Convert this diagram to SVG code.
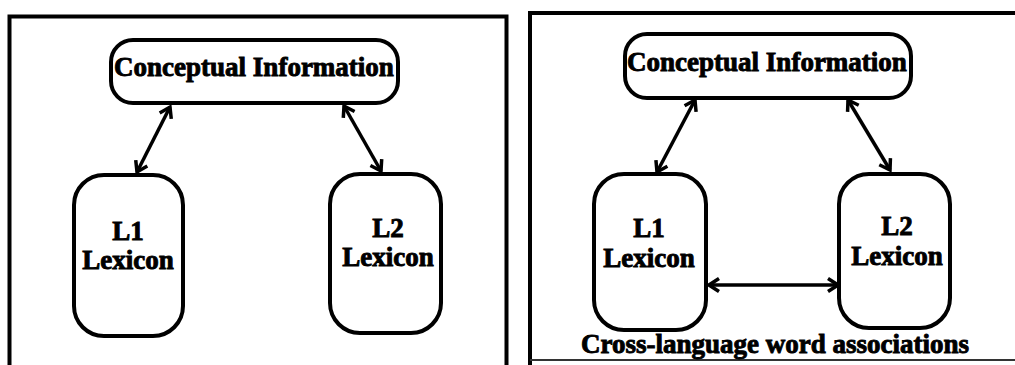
<svg xmlns="http://www.w3.org/2000/svg" width="1015" height="365" viewBox="0 0 1015 365">
  <style>
    .frame { fill: none; stroke: #000; stroke-width: 4; stroke-linejoin: miter; }
    .node { fill: #fff; stroke: #000; stroke-width: 4; }
    .lbl { font-family: "Liberation Serif", "Times New Roman", serif; font-weight: bold; font-size: 27px; fill: #000; stroke: #000; stroke-width: 0.9; text-anchor: middle; }
    .link { fill: none; stroke: #000; stroke-width: 3.5; marker-start: url(#head); marker-end: url(#head); }
  </style>
  <defs>
    <marker id="head" markerUnits="userSpaceOnUse" markerWidth="18" markerHeight="18" viewBox="0 0 18 18" refX="15" refY="9" orient="auto-start-reverse">
      <path d="M5,2.5 L15,9 L5,15.5" fill="none" stroke="#000" stroke-width="3.5" stroke-linejoin="miter"/>
    </marker>
  </defs>
  <rect width="1015" height="365" fill="#fff"/>

  <!-- panel frames -->
  <g id="frames">
    <path class="frame" d="M9.5,365 V16.5 H506.5 V365"/>
    <path class="frame" d="M530,365 V13 H1015"/>
    <line x1="530" y1="360" x2="1015" y2="360" stroke="#333" stroke-width="2"/>
  </g>

  <!-- connectors -->
  <g id="connectors">
    <line class="link" x1="137" y1="172" x2="170" y2="107"/>
    <line class="link" x1="381" y1="171" x2="344" y2="106"/>
    <line class="link" x1="657" y1="172" x2="695" y2="100"/>
    <line class="link" x1="890" y1="170" x2="848" y2="100"/>
    <line class="link" x1="709" y1="285" x2="838" y2="285"/>
  </g>

  <!-- left panel: no cross-language links -->
  <g id="left-concept">
    <rect class="node" x="111" y="40" width="287" height="63" rx="22"/>
    <text class="lbl" x="254" y="76">Conceptual Information</text>
  </g>
  <g id="left-l1">
    <rect class="node" x="74" y="175" width="109" height="161" rx="30"/>
    <text class="lbl" x="128" y="240">L1</text>
    <text class="lbl" x="128" y="269">Lexicon</text>
  </g>
  <g id="left-l2">
    <rect class="node" x="330" y="174" width="111" height="159" rx="30"/>
    <text class="lbl" x="388" y="237">L2</text>
    <text class="lbl" x="388" y="266">Lexicon</text>
  </g>

  <!-- right panel: with cross-language word associations -->
  <g id="right-concept">
    <rect class="node" x="625" y="34" width="286" height="64" rx="22"/>
    <text class="lbl" x="767" y="71">Conceptual Information</text>
  </g>
  <g id="right-l1">
    <rect class="node" x="594" y="174" width="112" height="156" rx="30"/>
    <text class="lbl" x="649" y="237">L1</text>
    <text class="lbl" x="649" y="267">Lexicon</text>
  </g>
  <g id="right-l2">
    <rect class="node" x="839" y="174" width="111" height="154" rx="30"/>
    <text class="lbl" x="897" y="235">L2</text>
    <text class="lbl" x="897" y="265">Lexicon</text>
  </g>
  <g id="caption">
    <text class="lbl" x="775" y="353">Cross-language word associations</text>
  </g>
</svg>
